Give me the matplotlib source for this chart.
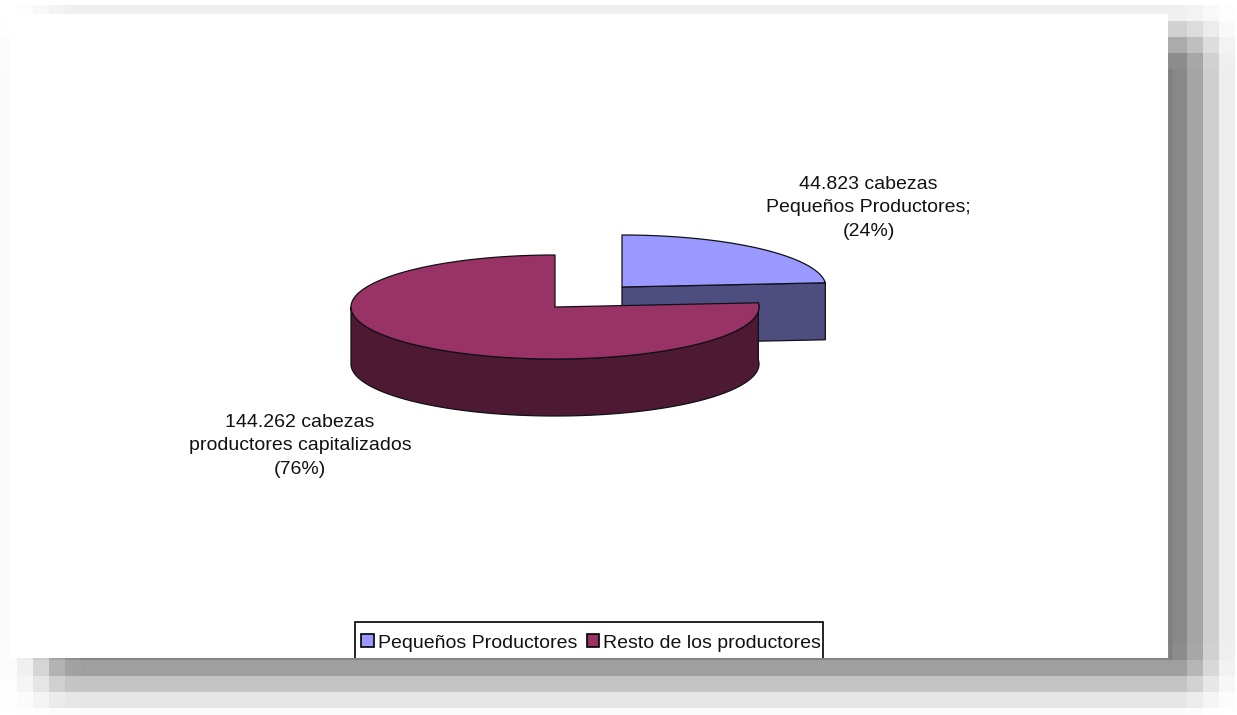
import numpy as np
import matplotlib
matplotlib.use('Agg')
import matplotlib.pyplot as plt
from matplotlib.patches import Patch, Polygon, Rectangle

plt.rcParams['font.family'] = ['Liberation Sans', 'DejaVu Sans']

### Data ###
categories = ['Pequeños Productores', 'Resto de los productores']
head_counts = [44823, 144262]
slice_labels = ['44.823 cabezas\nPequeños Productores;\n(24%)',
                '144.262 cabezas\nproductores capitalizados\n(76%)']
top_colors = ['#9999ff', '#993366']
side_colors = ['#4d4d80', '#4d1933']

# Shadow bands round the white panel: band edges and how dark each band is
shadow_x_edges = [0, 17, 33, 49, 65, 81, 1168, 1187, 1203, 1219, 1235, 1237]
shadow_x_dark = [.03, .16, .44, .79, .97, 1, 1, .76, .40, .14, 0]
shadow_y_edges = [0, 5, 21, 37, 53, 69, 644, 660, 676, 692, 708, 715]
shadow_y_dark = [0, .13, .39, .71, .97, 1, .97, .81, .50, .21, .03]
shadow_max = 119

# Pie layout in pixels
radius_x, radius_y, depth = 204, 52, 57
centers = [(622, 287), (555, 307)]
edge_color = '#101018'

fig = plt.figure(figsize=(12.37, 7.15), dpi=100, facecolor='white')
ax = fig.add_axes([0, 0, 1, 1])


def rim(center, start, stop):
    # Angles run clockwise from 12 o'clock
    t = np.radians(np.linspace(start, stop, 200))
    return np.column_stack([center[0] + radius_x * np.sin(t),
                            center[1] - radius_y * np.cos(t)])


def draw_patch(points, color, z):
    ax.add_patch(Polygon(points, closed=True, facecolor=color, edgecolor=edge_color,
                         linewidth=0.9, joinstyle='round', zorder=z))


# Slice angles come from the values
shares = np.array(head_counts) / sum(head_counts)
split = shares[0] * 360

# Small slice, pulled out to the upper right
c = centers[0]
end = rim(c, split, split)[0]
draw_patch([c, end, (end[0], end[1] + depth), (c[0], c[1] + depth)], side_colors[0], 2)
draw_patch(np.vstack([[c], rim(c, 0, split)]), top_colors[0], 2.1)

# Large slice
c = centers[1]
front = rim(c, split, 270)
draw_patch(np.vstack([front, (front + [0, depth])[::-1]]), side_colors[1], 2.2)
draw_patch(np.vstack([[c], rim(c, split, 360)]), top_colors[1], 2.3)

# Slice labels
ax.text(868.5, 208, slice_labels[0], ha='center', va='center', fontsize=14.0,
        linespacing=1.53, color='#111111', zorder=3)
ax.text(300, 446, slice_labels[1], ha='center', va='center', fontsize=14.0,
        linespacing=1.53, color='#111111', zorder=3)

# Legend box, its lower edge runs under the shadow
ax.add_patch(Rectangle((354.5, 621.5), 468, 45, facecolor='white', edgecolor='black',
                       linewidth=1.2, zorder=3.4))
handles = [Patch(facecolor=col, edgecolor='black', linewidth=1.2) for col in top_colors]
legend = ax.legend(handles, categories, loc='center', bbox_to_anchor=(591, 643),
                   bbox_transform=ax.transData, ncols=2, fontsize=14.0, frameon=False,
                   borderpad=0, handlelength=0.66, handleheight=0.66, handletextpad=0.2,
                   columnspacing=0.5, borderaxespad=0, labelcolor='#111111')
legend.set_zorder(3.5)

# Blocky shadow, with the white panel over it
tone = (255 - shadow_max * np.outer(shadow_y_dark, shadow_x_dark)) / 255
rgba = np.dstack([tone, tone, tone, np.ones_like(tone)])
ax.pcolormesh(shadow_x_edges, shadow_y_edges, rgba, zorder=1)
ax.add_patch(Rectangle((10, 14), 1158, 644, facecolor='white', edgecolor='none', zorder=1.5))

# Shadow again on top, clipped to the bar that hides the bottom of the legend box
mesh = ax.pcolormesh(shadow_x_edges, shadow_y_edges[6:], rgba[6:], zorder=4)
mesh.set_clip_path(Rectangle((0, 658), 1237, 57, transform=ax.transData))
ax.plot([81, 1168], [659, 659], color='#858585', linewidth=1.5, zorder=4.1)
ax.plot([1169.5, 1169.5], [70, 658], color='#7f7f7f', linewidth=2.5, zorder=4.1)

ax.set_xlim(0, 1237)
ax.set_ylim(715, 0)
ax.axis('off')

fig.savefig('out.png', dpi=100)
